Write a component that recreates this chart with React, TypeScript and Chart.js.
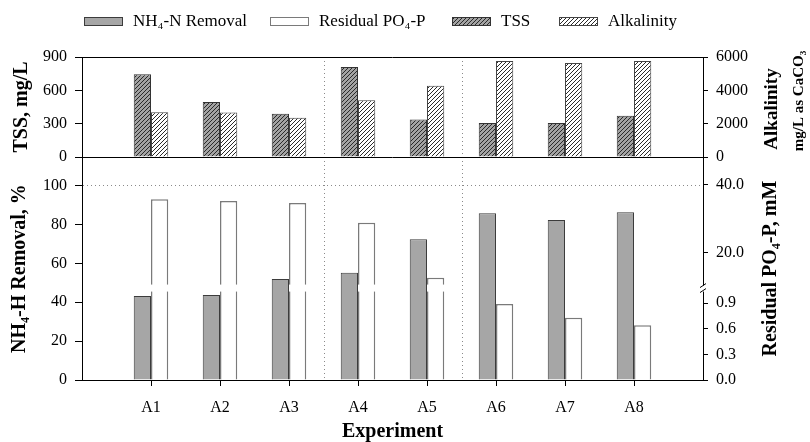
import React, { useEffect, useRef } from 'react';
import { Chart, registerables, LinearScale } from 'chart.js';

Chart.register(...registerables);

// ---------------- data ----------------
const EXPERIMENTS = ['A1', 'A2', 'A3', 'A4', 'A5', 'A6', 'A7', 'A8'];
const NH4_REMOVAL = [43.2, 43.7, 51.9, 55.2, 72.3, 85.7, 82.3, 86.2]; // %
const RESIDUAL_PO4 = [35.7, 35.2, 34.6, 28.8, 12.8, 0.89, 0.73, 0.64]; // mM
const TSS = [744, 494, 390, 810, 338, 305, 305, 372]; // mg/L
const ALKALINITY = [2690, 2670, 2360, 3400, 4280, 5760, 5640, 5760]; // mg/L as CaCO3
const TSS_TICKS = [0, 300, 600, 900];
const ALK_TICKS = [0, 2000, 4000, 6000];
const NH4_TICKS = [0, 20, 40, 60, 80, 100];
const PO4_TICKS = [0, 0.3, 0.6, 0.9, 20, 40];
const GROUP_BOUNDARIES = [3.5, 5.5];
const LEGEND_LABELS = ['NH₄-N Removal', 'Residual PO₄-P', 'TSS', 'Alkalinity'];

// ---------------- broken PO4 axis ----------------
const PANEL_UNITS = 114.65;
const LOW_SLOPE = 43.9;
const LOW_LIMIT = 1.07;
const HIGH_REF = 20;
const HIGH_REF_U = 65.3;
const HIGH_SLOPE = 1.76;
const BREAK_U = 47;

function po4ToUnits(v: number) {
  if (v <= LOW_LIMIT) return v * LOW_SLOPE;
  return Math.max(BREAK_U, HIGH_REF_U + (v - HIGH_REF) * HIGH_SLOPE);
}
function unitsToPo4(u: number) {
  if (u <= BREAK_U) return u / LOW_SLOPE;
  return HIGH_REF + (u - HIGH_REF_U) / HIGH_SLOPE;
}

class BrokenScale extends LinearScale {
  static id = 'broken';
  getPixelForValue(value: any) {
    return this.getPixelForDecimal(po4ToUnits(Number(value)) / PANEL_UNITS);
  }
  getValueForPixel(pixel: number) {
    return unitsToPo4(this.getDecimalForPixel(pixel) * PANEL_UNITS);
  }
  getBreakPixel() {
    return this.getPixelForDecimal(BREAK_U / PANEL_UNITS);
  }
}
Chart.register(BrokenScale as any);

const SERIF = "'Liberation Serif', 'Times New Roman', serif";
Chart.defaults.font.family = SERIF;
Chart.defaults.color = '#000';

const pad = (arr: number[]) => [null, ...arr, null];
const LABELS = ['', ...EXPERIMENTS, ''];

function makeHatch(ctx: CanvasRenderingContext2D, bg: string, line: string) {
  const c = document.createElement('canvas');
  c.width = 4;
  c.height = 4;
  const g = c.getContext('2d')!;
  g.fillStyle = bg;
  g.fillRect(0, 0, 4, 4);
  g.strokeStyle = line;
  g.lineWidth = 1;
  g.beginPath();
  g.moveTo(0, 4); g.lineTo(4, 0);
  g.moveTo(-1, 1); g.lineTo(1, -1);
  g.moveTo(3, 5); g.lineTo(5, 3);
  g.stroke();
  return ctx.createPattern(c, 'repeat')!;
}

function vText(ctx: CanvasRenderingContext2D, text: string, x: number, y: number, font: string) {
  ctx.save();
  ctx.translate(x, y);
  ctx.rotate(-Math.PI / 2);
  ctx.font = font;
  ctx.fillStyle = '#000';
  ctx.textAlign = 'center';
  ctx.textBaseline = 'middle';
  ctx.fillText(text, 0, 0);
  ctx.restore();
}

const decorPlugin = {
  id: 'decor',
  beforeDatasetsDraw(chart: any) {
    const { ctx, chartArea, scales } = chart;
    ctx.save();
    ctx.strokeStyle = '#8a8a8a';
    ctx.lineWidth = 1;
    ctx.setLineDash([1, 3]);
    for (const b of GROUP_BOUNDARIES) {
      const x = Math.round(scales.x.getPixelForValue(b)) + 0.5;
      ctx.beginPath();
      ctx.moveTo(x, chartArea.top);
      ctx.lineTo(x, chartArea.bottom);
      ctx.stroke();
    }
    ctx.restore();
  },
  afterDatasetsDraw(chart: any) {
    const { ctx, scales } = chart;
    const yP = scales.yPo4;
    const bp = yP.getBreakPixel();
    const meta = chart.getDatasetMeta(1);
    ctx.save();
    ctx.fillStyle = '#fff';
    for (const el of meta.data) {
      if (el.y == null || isNaN(el.y)) continue;
      if (el.y < bp - 5) {
        ctx.fillRect(el.x - el.width / 2, bp - 4, el.width + 1, 7);
      }
    }
    ctx.restore();
  },
  afterDraw(chart: any) {
    const { ctx, chartArea, scales, data } = chart;
    const yT = scales.yTss;
    const yP = scales.yPo4;
    const yN = scales.yNh4;
    const yA = scales.yAlk;
    ctx.save();
    // frame lines of the upper panel
    ctx.strokeStyle = '#000';
    ctx.lineWidth = 1;
    ctx.beginPath();
    ctx.moveTo(chartArea.left, Math.round(yT.top) + 0.5);
    ctx.lineTo(chartArea.right, Math.round(yT.top) + 0.5);
    ctx.moveTo(chartArea.left, Math.round(yT.bottom) + 0.5);
    ctx.lineTo(chartArea.right, Math.round(yT.bottom) + 0.5);
    ctx.stroke();

    // axis break on right axis
    const bp = yP.getBreakPixel();
    const ax = yP.left;
    ctx.fillStyle = '#fff';
    ctx.fillRect(ax - 3, bp - 3, 6, 6);
    ctx.beginPath();
    ctx.moveTo(ax - 3, bp - 1); ctx.lineTo(ax + 3, bp - 5);
    ctx.moveTo(ax - 3, bp + 4); ctx.lineTo(ax + 3, bp);
    ctx.stroke();

    // legend
    const LEG_X = [84, 270, 452, 559];
    const ly = 17;
    ctx.font = `17px ${SERIF}`;
    ctx.textBaseline = 'middle';
    ctx.textAlign = 'left';
    LEGEND_LABELS.forEach((lab, i) => {
      const ds = data.datasets[i];
      ctx.fillStyle = ds.backgroundColor;
      ctx.fillRect(LEG_X[i], ly, 39, 9);
      ctx.strokeStyle = ds.borderColor;
      ctx.lineWidth = 1;
      ctx.strokeRect(LEG_X[i] + 0.5, ly + 0.5, 38, 8);
      ctx.fillStyle = '#000';
      ctx.fillText(lab, LEG_X[i] + 49, ly + 5);
    });

    // axis titles
    vText(ctx, 'TSS, mg/L', 22, (yT.top + yT.bottom) / 2, `bold 20px ${SERIF}`);
    vText(ctx, 'NH₄-H Removal, %', 20, (yN.top + yN.bottom) / 2, `bold 20px ${SERIF}`);
    vText(ctx, 'Alkalinity', 772, (yA.top + yA.bottom) / 2 + 2, `bold 19px ${SERIF}`);
    vText(ctx, 'mg/L as CaCO₃', 799, (yA.top + yA.bottom) / 2 - 6, `bold 15px ${SERIF}`);
    vText(ctx, 'Residual PO₄-P, mM', 771, (yP.top + yP.bottom) / 2, `bold 20px ${SERIF}`);

    ctx.font = `bold 20px ${SERIF}`;
    ctx.textAlign = 'center';
    ctx.fillStyle = '#000';
    ctx.fillText('Experiment', (chartArea.left + chartArea.right) / 2, 432);
    ctx.restore();
  },
};

const tickFont = { size: 16, family: SERIF };

function yAxis(extra: any) {
  return {
    type: 'linear',
    stacked: false,
    ticks: { autoSkip: false, font: tickFont, color: '#000', padding: 8, callback: (v: any) => String(v) },
    border: { display: true, color: '#000', width: 1 },
    ...extra,
  };
}

export default function App() {
  const ref = useRef<HTMLCanvasElement>(null);

  useEffect(() => {
    document.body.style.margin = '0';
    const canvas = ref.current!;
    const ctx = canvas.getContext('2d')!;
    const tssHatch = makeHatch(ctx, '#a3a3a3', '#2a2a2a');
    const alkHatch = makeHatch(ctx, '#ffffff', '#2a2a2a');

    const chart = new Chart(ctx, {
      type: 'bar',
      data: {
        labels: LABELS,
        datasets: [
          {
            label: LEGEND_LABELS[0],
            data: pad(NH4_REMOVAL),
            yAxisID: 'yNh4',
            stack: 'left',
            backgroundColor: '#a6a6a6',
            borderColor: '#3c3c3c',
            borderWidth: 1,
            categoryPercentage: 0.5,
            barPercentage: 1,
          },
          {
            label: LEGEND_LABELS[1],
            data: pad(RESIDUAL_PO4),
            yAxisID: 'yPo4',
            stack: 'right',
            backgroundColor: '#ffffff',
            borderColor: '#7a7a7a',
            borderWidth: 1.5,
            categoryPercentage: 0.5,
            barPercentage: 1,
          },
          {
            label: LEGEND_LABELS[2],
            data: pad(TSS),
            yAxisID: 'yTss',
            stack: 'left',
            backgroundColor: tssHatch,
            borderColor: '#333333',
            borderWidth: 1,
            categoryPercentage: 0.5,
            barPercentage: 1,
          },
          {
            label: LEGEND_LABELS[3],
            data: pad(ALKALINITY),
            yAxisID: 'yAlk',
            stack: 'right',
            backgroundColor: alkHatch,
            borderColor: '#444444',
            borderWidth: 1,
            categoryPercentage: 0.5,
            barPercentage: 1,
          },
        ] as any,
      },
      options: {
        responsive: false,
        animation: false,
        layout: { padding: { top: 57, left: 0, right: 0, bottom: 0 } },
        plugins: { legend: { display: false }, tooltip: { enabled: false }, title: { display: false } },
        scales: {
          x: {
            type: 'category',
            offset: false,
            position: 'bottom',
            grid: { display: true, offset: false, drawOnChartArea: false, drawTicks: true, tickLength: 6, tickColor: '#000', color: '#000' },
            border: { display: true, color: '#000', width: 1 },
            ticks: { autoSkip: false, maxRotation: 0, minRotation: 0, padding: 12, font: tickFont, color: '#000' },
            afterBuildTicks: (s: any) => {
              s.ticks = s.ticks.filter((t: any) => t.value >= 1 && t.value <= EXPERIMENTS.length);
            },
            afterFit: (s: any) => { s.height = 62; },
          },
          yTss: yAxis({
            position: 'left', stack: 'L', stackWeight: 100, weight: 2,
            min: 0, max: 900,
            grid: { drawOnChartArea: false, drawTicks: true, tickLength: 7, tickColor: '#000', color: '#000' },
            afterBuildTicks: (s: any) => { s.ticks = TSS_TICKS.map((v) => ({ value: v })); },
            afterFit: (s: any) => { s.width = 82; },
          }),
          yNh4: yAxis({
            position: 'left', stack: 'L', stackWeight: 223, weight: 1,
            min: 0, max: PANEL_UNITS,
            grid: {
              drawOnChartArea: true, drawTicks: true, tickLength: 7, tickColor: '#000',
              color: (c: any) => (c.tick && c.tick.value === 100 ? '#8a8a8a' : 'rgba(0,0,0,0)'),
            },
            border: { display: true, color: '#000', width: 1, dash: [1, 3] },
            afterBuildTicks: (s: any) => { s.ticks = NH4_TICKS.map((v) => ({ value: v })); },
            afterFit: (s: any) => { s.width = 82; },
          }),
          yAlk: yAxis({
            position: 'right', stack: 'R', stackWeight: 100, weight: 1,
            min: 0, max: 6000,
            grid: { drawOnChartArea: false, drawTicks: true, tickLength: 5, tickColor: '#000', color: '#000' },
            afterBuildTicks: (s: any) => { s.ticks = ALK_TICKS.map((v) => ({ value: v })); },
            afterFit: (s: any) => { s.width = 107; },
          }),
          yPo4: yAxis({
            type: 'broken',
            position: 'right', stack: 'R', stackWeight: 223, weight: 2,
            min: 0, max: 48,
            grid: { drawOnChartArea: false, drawTicks: true, tickLength: 5, tickColor: '#000', color: '#000' },
            ticks: { autoSkip: false, font: tickFont, color: '#000', padding: 8, callback: (v: any) => Number(v).toFixed(1) },
            afterBuildTicks: (s: any) => { s.ticks = PO4_TICKS.map((v) => ({ value: v })); },
            afterFit: (s: any) => { s.width = 107; },
          }),
        } as any,
      },
      plugins: [decorPlugin],
    });
    return () => chart.destroy();
  }, []);

  return (
    <div style={{ width: 810, height: 442, background: '#fff' }}>
      <canvas ref={ref} width={810} height={442} style={{ display: 'block', width: 810, height: 442 }} />
    </div>
  );
}
